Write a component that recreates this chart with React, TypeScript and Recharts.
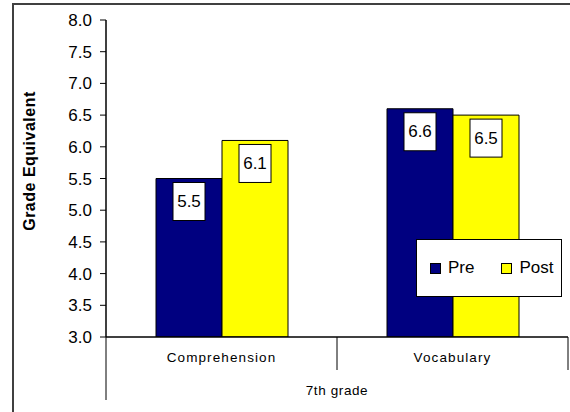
import { BarChart, Bar, XAxis, YAxis, Legend, LabelList, Label } from 'recharts';

const categories = ['Comprehension', 'Vocabulary'];
const seriesNames = ['Pre', 'Post'];
const preScores = [5.5, 6.6];
const postScores = [6.1, 6.5];
const yTicks = [3.0, 3.5, 4.0, 4.5, 5.0, 5.5, 6.0, 6.5, 7.0, 7.5, 8.0];
const groupLabel = '7th grade';

const data = categories.map((name, i) => ({
  name,
  pre: preScores[i],
  post: postScores[i],
}));

const FONT = '"Liberation Sans", Arial, sans-serif';
const CHART_W = 570;
const CHART_H = 412;
const MARGIN = { top: 20, right: 2, bottom: 0, left: 56 };
const Y_AXIS_W = 50;
const BAND = (CHART_W - MARGIN.left - MARGIN.right - Y_AXIS_W) / categories.length;

const CategoryTick = (props: any) => {
  const { x, y, payload, index } = props;
  const left = x - BAND / 2;
  const right = x + BAND / 2;
  return (
    <g>
      <line x1={left} y1={y} x2={left} y2={y + (index === 0 ? 63 : 33)} stroke="#000" />
      {index === categories.length - 1 && (
        <line x1={right} y1={y} x2={right} y2={y + 33} stroke="#000" />
      )}
      <text
        x={x}
        y={y + 25}
        textAnchor="middle"
        fontSize={13.5}
        letterSpacing={1.1}
        fill="#000"
        fontFamily={FONT}
      >
        {payload.value}
      </text>
    </g>
  );
};

const ValueBox = (props: any) => {
  const { x, y, width, value } = props;
  const cx = x + width / 2;
  return (
    <g>
      <rect x={cx - 16} y={y + 4} width={32} height={38} fill="#fff" stroke="#000" />
      <text
        x={cx}
        y={y + 23}
        textAnchor="middle"
        dominantBaseline="central"
        fontSize={17}
        fill="#000"
        fontFamily={FONT}
      >
        {value.toFixed(1)}
      </text>
    </g>
  );
};

const LegendBox = (props: any) => {
  const items = [...(props.payload || [])].sort(
    (a: any, b: any) => seriesNames.indexOf(a.value) - seriesNames.indexOf(b.value)
  );
  return (
    <div
      style={{
        width: 146,
        height: 58,
        boxSizing: 'border-box',
        border: '1px solid #000',
        background: '#fff',
        display: 'flex',
        alignItems: 'center',
        paddingLeft: 13,
        fontFamily: FONT,
        fontSize: 17,
        color: '#000',
      }}
    >
      {items.map((entry: any, i: number) => (
        <div key={entry.value} style={{ display: 'flex', alignItems: 'center', marginRight: i === 0 ? 27 : 0 }}>
          <span
            style={{
              display: 'inline-block',
              width: 11,
              height: 11,
              boxSizing: 'border-box',
              background: entry.color,
              border: '1px solid #000',
              marginRight: 7,
            }}
          />
          <span>{entry.value}</span>
        </div>
      ))}
    </div>
  );
};

export default function App() {
  return (
    <div style={{ position: 'absolute', left: 0, top: 0, width: CHART_W, height: CHART_H, background: '#fff', overflow: 'hidden' }}>
      <div
        style={{
          position: 'absolute',
          left: 12,
          top: 3,
          width: 556,
          height: 430,
          border: '2px solid #404040',
        }}
      />
      <BarChart
        width={CHART_W}
        height={CHART_H}
        data={data}
        margin={MARGIN}
        barCategoryGap={50}
        barGap={0}
        style={{ fontFamily: FONT }}
      >
        <XAxis
          dataKey="name"
          height={75}
          axisLine={{ stroke: '#000', strokeWidth: 1.5 }}
          tickLine={false}
          tickSize={0}
          tickMargin={0}
          interval={0}
          tick={<CategoryTick />}
        >
          <Label
            content={(p: any) => {
              const vb = p.viewBox;
              return (
                <text
                  x={vb.x + vb.width / 2}
                  y={vb.y + 58}
                  textAnchor="middle"
                  fontSize={13.5}
                  letterSpacing={0.6}
                  fill="#000"
                  fontFamily={FONT}
                >
                  {groupLabel}
                </text>
              );
            }}
          />
        </XAxis>
        <XAxis xAxisId="top" dataKey="name" orientation="top" height={0} tick={false} tickLine={false} axisLine={{ stroke: '#000' }} />
        <YAxis
          domain={[3, 8]}
          ticks={yTicks}
          width={Y_AXIS_W}
          interval={0}
          tickFormatter={(v: number) => v.toFixed(1)}
          tick={{ fill: '#000', fontSize: 17, fontFamily: FONT }}
          tickSize={6}
          tickMargin={8}
          tickLine={{ stroke: '#000' }}
          axisLine={{ stroke: '#000', strokeWidth: 1.5 }}
          allowDataOverflow
        >
          <Label
            content={(p: any) => {
              const vb = p.viewBox;
              const lx = vb.x - 27;
              const ly = vb.y + 141;
              return (
                <text
                  x={lx}
                  y={ly}
                  transform={`rotate(-90, ${lx}, ${ly})`}
                  textAnchor="middle"
                  dominantBaseline="central"
                  fontSize={16}
                  fontWeight="bold"
                  letterSpacing={0.5}
                  fill="#000"
                  fontFamily={FONT}
                >
                  Grade Equivalent
                </text>
              );
            }}
          />
        </YAxis>
        <YAxis yAxisId="right" orientation="right" width={0} domain={[3, 8]} tick={false} tickLine={false} axisLine={{ stroke: '#000' }} />
        <Legend
          layout="horizontal"
          verticalAlign="middle"
          align="center"
          content={<LegendBox />}
          wrapperStyle={{ position: 'absolute', left: 416, top: 239, width: 146, height: 58 }}
        />
        <Bar dataKey="pre" name="Pre" fill="#000080" stroke="#000" strokeWidth={1} isAnimationActive={false}>
          <LabelList dataKey="pre" content={<ValueBox />} />
        </Bar>
        <Bar dataKey="post" name="Post" fill="#FFFF00" stroke="#000" strokeWidth={1} isAnimationActive={false}>
          <LabelList dataKey="post" content={<ValueBox />} />
        </Bar>
      </BarChart>
    </div>
  );
}
